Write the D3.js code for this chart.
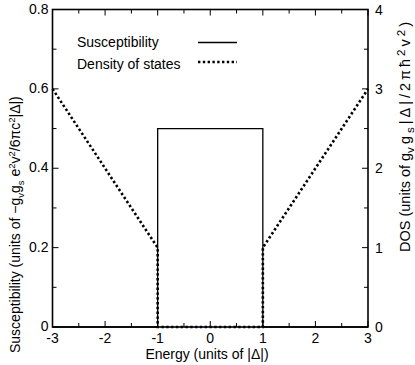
<!DOCTYPE html>
<html>
<head>
<meta charset="utf-8">
<script src="https://cdn.jsdelivr.net/npm/d3@7"></script>
<style>
  body { margin: 0; background: #fff; }
  svg text { font-family: "Liberation Sans", Arial, Helvetica, sans-serif; fill: #000; }
</style>
</head>
<body>
<div id="chart"></div>
<script>
// data
const energy = [-3, -1, -1, 1, 1, 3];
const susceptibility = [0, 0, 0.5, 0.5, 0, 0];
const dos = [3, 1, 0, 0, 1, 3];

const xTicks = [-3, -2, -1, 0, 1, 2, 3];
const xTickLabels = ["-3", "-2", "-1", "0", "1", "2", "3"];
const yTicks = [0, 0.2, 0.4, 0.6, 0.8];
const yTickLabels = ["0", "0.2", "0.4", "0.6", "0.8"];
const y2Ticks = [0, 1, 2, 3, 4];
const y2TickLabels = ["0", "1", "2", "3", "4"];
const legendNames = ["Susceptibility", "Density of states"];

const W = 415, H = 365;
const margin = {top: 9.5, right: 47, bottom: 38, left: 52.5};
const fs = 14;

const svg = d3.select("#chart").append("svg")
    .attr("width", W)
    .attr("height", H);

const x = d3.scaleLinear().domain([-3, 3]).range([margin.left, W - margin.right]);
const y = d3.scaleLinear().domain([0, 0.8]).range([H - margin.bottom, margin.top]);
const y2 = d3.scaleLinear().domain([0, 4]).range([H - margin.bottom, margin.top]);

// inward ticks on all four sides
const xMinor = d3.range(-3, 3.01, 0.5);
const yMinor = d3.range(0, 0.801, 0.1);
const y2Minor = d3.range(0, 4.01, 0.5);
const isMajor = (v, step) => Math.abs(v / step - Math.round(v / step)) < 1e-6;

const ticks = svg.append("g").attr("stroke", "#000").attr("stroke-width", 1);
xMinor.forEach(v => {
    let len = isMajor(v, 1) ? 6 : 4;
    ticks.append("line").attr("x1", x(v)).attr("x2", x(v))
        .attr("y1", y(0)).attr("y2", y(0) - len);
    ticks.append("line").attr("x1", x(v)).attr("x2", x(v))
        .attr("y1", y(0.8)).attr("y2", y(0.8) + len);
});
yMinor.forEach(v => {
    let len = isMajor(v, 0.2) ? 6 : 4;
    ticks.append("line").attr("x1", x(-3)).attr("x2", x(-3) + len)
        .attr("y1", y(v)).attr("y2", y(v));
});
y2Minor.forEach(v => {
    let len = isMajor(v, 1) ? 6 : 4;
    ticks.append("line").attr("x1", x(3)).attr("x2", x(3) - len)
        .attr("y1", y2(v)).attr("y2", y2(v));
});

// data lines
const line = d3.line();

svg.append("path")
    .datum(energy.map((e, i) => [x(e), y(susceptibility[i])]))
    .attr("d", line)
    .attr("fill", "none")
    .attr("stroke", "#000")
    .attr("stroke-width", 1.3);

svg.append("path")
    .datum(energy.map((e, i) => [x(e), y2(dos[i])]))
    .attr("d", line)
    .attr("fill", "none")
    .attr("stroke", "#000")
    .attr("stroke-width", 2.6)
    .attr("stroke-dasharray", "2.4,2.4");

// frame
svg.append("rect")
    .attr("x", x(-3)).attr("y", y(0.8))
    .attr("width", x(3) - x(-3)).attr("height", y(0) - y(0.8))
    .attr("fill", "none")
    .attr("stroke", "#000")
    .attr("stroke-width", 1.6);

// tick labels
svg.append("g").selectAll("text").data(xTicks).join("text")
    .attr("x", d => x(d))
    .attr("y", y(0) + 15.5)
    .attr("text-anchor", "middle")
    .attr("font-size", fs)
    .text((d, i) => xTickLabels[i]);

svg.append("g").selectAll("text").data(yTicks).join("text")
    .attr("x", x(-3) - 4)
    .attr("y", d => y(d) + 4)
    .attr("text-anchor", "end")
    .attr("font-size", fs)
    .text((d, i) => yTickLabels[i]);

svg.append("g").selectAll("text").data(y2Ticks).join("text")
    .attr("x", x(3) + 7)
    .attr("y", d => y2(d) + 5)
    .attr("text-anchor", "start")
    .attr("font-size", fs)
    .text((d, i) => y2TickLabels[i]);

// axis titles
svg.append("text")
    .attr("x", 207)
    .attr("y", 359)
    .attr("text-anchor", "middle")
    .attr("font-size", fs)
    .text("Energy (units of |Δ|)");

// text with sub/superscripts: parts = [text, shift] (shift: 0 normal, 1 sup, -1 sub)
function richText(t, parts, size, scr) {
    t.attr("font-size", size);
    let cur = 0;
    parts.forEach(([s, shift]) => {
        let target = shift === 1 ? -size * 0.37 : shift === -1 ? size * 0.25 : 0;
        let dy = target - cur;
        cur = target;
        t.append("tspan")
            .attr("dy", dy)
            .attr("font-size", shift === 0 ? size : size * scr)
            .text(s);
    });
    return t;
}

richText(
    svg.append("g").attr("transform", "translate(20,353) rotate(-90)").append("text"),
    [["Susceptibility (units of \u2212g", 0], ["v", -1], ["g", 0], ["s", -1], [" e", 0], ["2", 1],
     ["v", 0], ["2", 1], ["/6\u03c0c", 0], ["2", 1], ["|\u0394|)", 0]],
    fs, 0.68
);

// right title: plain head, then the math tail spread to the length seen in the figure
const rightG = svg.append("g").attr("transform", "translate(410,252) rotate(-90)");
const head = rightG.append("text").attr("font-size", 14.5).text("DOS (units of g");
const headLen = head.node().getComputedTextLength();
const tail = richText(
    rightG.append("text").attr("x", headLen),
    [["v", -1], ["g", 0], ["s", -1], ["|\u0394|/2\u03c0\u0127", 0], ["2", 1],
     ["v", 0], ["2", 1], [")", 0]],
    14.5, 0.8
);
tail.attr("textLength", 252 - 22 - headLen).attr("lengthAdjust", "spacing");

// legend
const legend = svg.append("g");
legendNames.forEach((name, i) => {
    let ly = [46.5, 68.5][i];
    legend.append("text")
        .attr("x", 77)
        .attr("y", ly)
        .attr("font-size", fs)
        .text(name);
    let l = legend.append("line")
        .attr("x1", 198).attr("x2", 237)
        .attr("y1", ly - 4).attr("y2", ly - 4)
        .attr("stroke", "#000");
    if (i === 0) {
        l.attr("stroke-width", 1.3);
    } else {
        l.attr("y1", ly - 6.5).attr("y2", ly - 6.5)
            .attr("stroke-width", 2.6)
            .attr("stroke-dasharray", "2.4,2.4");
    }
});
</script>
</body>
</html>
